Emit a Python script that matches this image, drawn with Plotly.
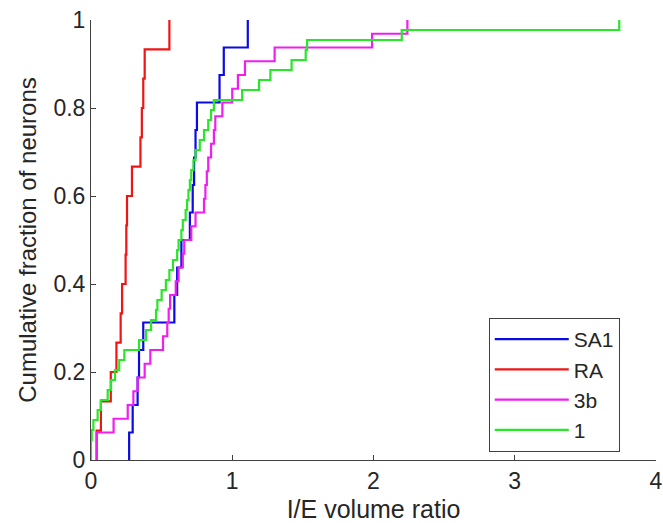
import plotly.graph_objects as go

# I/E volume ratios (sorted)
sa1 = [0.27, 0.295, 0.33, 0.34, 0.37, 0.59, 0.61, 0.64, 0.70, 0.72, 0.73, 0.74,
       0.75, 0.91, 0.94, 1.11]
ra = [0.04, 0.07, 0.14, 0.18, 0.21, 0.22, 0.245, 0.25, 0.255, 0.29, 0.35, 0.36,
      0.37, 0.38, 0.555]
b3 = [0.04, 0.04, 0.16, 0.26, 0.30, 0.33, 0.38, 0.42, 0.51, 0.54, 0.55, 0.56,
      0.60, 0.62, 0.65, 0.66, 0.71, 0.74, 0.80, 0.81, 0.82, 0.83, 0.85, 0.87,
      0.88, 0.93, 1.00, 1.04, 1.09, 1.30, 1.99, 2.24]
a1 = [0.0, 0.0, 0.005, 0.017, 0.047, 0.07, 0.118, 0.142, 0.17, 0.20, 0.236,
      0.34, 0.39, 0.425, 0.46, 0.47, 0.50, 0.53, 0.555, 0.58, 0.61, 0.62, 0.64,
      0.65, 0.67, 0.68, 0.69, 0.70, 0.71, 0.725, 0.74, 0.77, 0.80, 0.83, 0.85,
      0.87, 1.07, 1.19, 1.27, 1.42, 1.52, 1.53, 2.20, 3.74]

names = ["SA1", "RA", "3b", "1"]
groups = [sa1, ra, b3, a1]
colors = ["#0a0ae6", "#f01414", "#f01ef0", "#28e628"]

x_ticks = [0, 1, 2, 3, 4]
y_ticks = [0, 0.2, 0.4, 0.6, 0.8, 1]
y_ticktext = ["0", "0.2", "0.4", "0.6", "0.8", "1"]

fig = go.Figure()
for name, vals, col in zip(names, groups, colors):
    n = len(vals)
    xs = [vals[0]] + list(vals)
    ys = [0.0] + [(i + 1) / n for i in range(n)]
    fig.add_trace(go.Scatter(x=xs, y=ys, mode="lines", name=name,
                             line=dict(color=col, width=2.2, shape="hv")))

font = "Liberation Sans, Arial, sans-serif"
fig.update_layout(
    width=663, height=523,
    margin=dict(l=91, r=7, t=20, b=63),
    paper_bgcolor="white", plot_bgcolor="white",
    font=dict(family=font, size=23, color="#262626"),
    showlegend=True,
    legend=dict(x=0.704, y=0.323, xanchor="left", yanchor="top",
                bordercolor="#404040", borderwidth=1, bgcolor="white",
                font=dict(size=21, color="#262626"), itemwidth=74),
    xaxis=dict(range=[0, 4], tickvals=x_ticks, ticks="inside", ticklen=5,
               tickcolor="#404040", showline=True, linecolor="#404040",
               linewidth=1, showgrid=False, zeroline=False, automargin=False,
               tickfont=dict(size=23), ticklabeloverflow="allow",
               title=dict(text="I/E volume ratio", standoff=10,
                          font=dict(size=25))),
    yaxis=dict(range=[0, 1], tickvals=y_ticks, ticktext=y_ticktext,
               ticks="inside", ticklen=5, tickcolor="#404040",
               showline=True, linecolor="#404040", linewidth=1,
               showgrid=False, zeroline=False, automargin=False,
               tickfont=dict(size=23),
               title=dict(text="Cumulative fraction of neurons", standoff=10,
                          font=dict(size=24))),
)
fig.write_html("out.html", config={"displayModeBar": False},
               post_script="document.body.style.margin='0px';"
                           "document.body.style.overflow='hidden';")
